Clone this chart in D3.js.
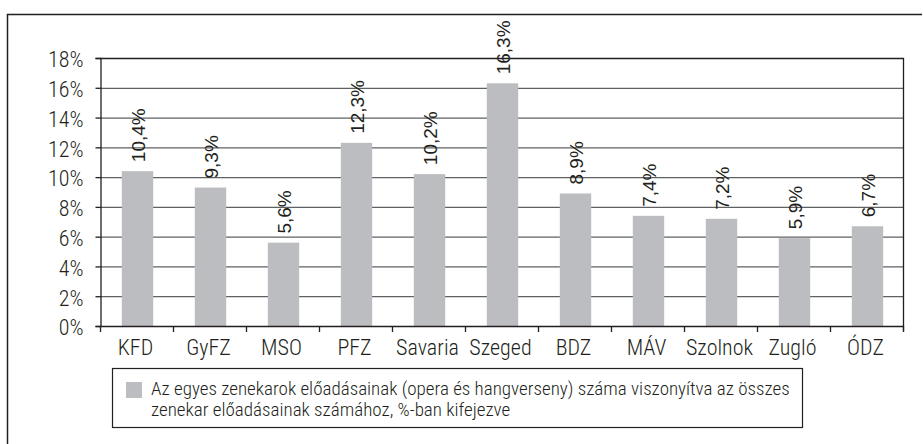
<!DOCTYPE html>
<html>
<head>
<meta charset="utf-8">
<script src="https://cdn.jsdelivr.net/npm/d3@7"></script>
<style>
  body { margin: 0; background: #fff; }
  text { font-family: "Roboto Condensed", "Liberation Sans", sans-serif; font-weight: 300; fill: #231f20; }
  text.val { font-family: "Liberation Sans", Arial, sans-serif; font-weight: 400; }
</style>
</head>
<body>
<div id="chart"></div>
<script>
// data
const categories = ["KFD", "GyFZ", "MSO", "PFZ", "Savaria", "Szeged", "BDZ", "MÁV", "Szolnok", "Zugló", "ÓDZ"];
const values = [10.4, 9.3, 5.6, 12.3, 10.2, 16.3, 8.9, 7.4, 7.2, 5.9, 6.7];
const yTicks = [0, 2, 4, 6, 8, 10, 12, 14, 16, 18];
const legendLines = [
  "Az egyes zenekarok előadásainak (opera és hangverseny) száma viszonyítva az összes",
  "zenekar előadásainak számához, %-ban kifejezve"
];

const width = 923, height = 444;
const plot = { left: 100, top: 58, right: 903, bottom: 326 };
const barColor = "#bcbdc0";

const svg = d3.select("#chart").append("svg")
  .attr("width", width)
  .attr("height", height);

// outer frame (only top + left visible)
svg.append("path")
  .attr("d", "M7.5,444 V14.5 H922")
  .attr("fill", "none")
  .attr("stroke", "#231f20")
  .attr("stroke-width", 1.5);

let x = d3.scaleBand()
  .domain(categories)
  .range([plot.left, plot.right])
  .paddingInner(0.57)
  .paddingOuter(0.285);

let y = d3.scaleLinear()
  .domain([0, 18])
  .range([plot.bottom, plot.top]);

// gridlines
svg.append("g")
  .selectAll("line")
  .data(yTicks.filter(d => d > 0 && d < 18))
  .join("line")
  .attr("x1", plot.left)
  .attr("x2", plot.right)
  .attr("y1", d => y(d) + 0.5)
  .attr("y2", d => y(d) + 0.5)
  .attr("stroke", "#5f6062")
  .attr("stroke-width", 1.3);

// bars
svg.append("g")
  .selectAll("rect")
  .data(values)
  .join("rect")
  .attr("x", (d, i) => x(categories[i]) + 1)
  .attr("y", d => y(d))
  .attr("width", x.bandwidth())
  .attr("height", d => y(0) - y(d))
  .attr("fill", barColor);

// plot border: top + right
svg.append("path")
  .attr("d", `M${plot.left},${plot.top + 0.5} H${plot.right + 0.5} V${plot.bottom + 5}`)
  .attr("fill", "none")
  .attr("stroke", "#231f20")
  .attr("stroke-width", 1.3);

// y axis
let yAxis = svg.append("g")
  .attr("transform", `translate(${plot.left + 0.5},0)`)
  .call(d3.axisLeft(y).tickValues(yTicks).tickSize(5).tickPadding(12).tickFormat(d => d + "%"));
yAxis.attr("font-family", null).attr("font-size", null);
yAxis.select(".domain").attr("stroke", "#231f20").attr("stroke-width", 1.3);
yAxis.selectAll(".tick line").attr("stroke", "#231f20").attr("stroke-width", 1.3);
yAxis.selectAll("text")
  .attr("font-size", 22)
  .attr("fill", "#231f20")
  .attr("dy", "0.4em");

// x axis line + ticks at category boundaries
let bounds = d3.range(categories.length + 1).map(i => plot.left + i * (plot.right - plot.left) / categories.length);
svg.append("line")
  .attr("x1", plot.left).attr("x2", plot.right + 1)
  .attr("y1", plot.bottom + 0.5).attr("y2", plot.bottom + 0.5)
  .attr("stroke", "#231f20").attr("stroke-width", 1.5);
svg.append("g")
  .selectAll("line")
  .data(bounds)
  .join("line")
  .attr("x1", d => d + 0.5).attr("x2", d => d + 0.5)
  .attr("y1", plot.bottom).attr("y2", plot.bottom + 6)
  .attr("stroke", "#231f20").attr("stroke-width", 1.3);

svg.append("g")
  .selectAll("text")
  .data(categories)
  .join("text")
  .attr("x", d => x(d) + x.bandwidth() / 2 - 1)
  .attr("y", plot.bottom + 29)
  .attr("text-anchor", "middle")
  .attr("font-size", 22)
  .text(d => d);

// value labels, rotated
svg.append("g")
  .selectAll("text")
  .data(values)
  .join("text")
  .attr("class", "val")
  .attr("transform", (d, i) => `translate(${x(categories[i]) + x.bandwidth() / 2 + 8},${y(d) - 9}) rotate(-90)`)
  .attr("font-size", 19)
  .text(d => d.toFixed(1).replace(".", ",") + "%");

// legend
let legend = svg.append("g");
legend.append("rect")
  .attr("x", 112.5).attr("y", 368.5)
  .attr("width", 690).attr("height", 59)
  .attr("fill", "none")
  .attr("stroke", "#231f20")
  .attr("stroke-width", 1.2);
legend.append("rect")
  .attr("x", 126).attr("y", 382)
  .attr("width", 16).attr("height", 16)
  .attr("fill", barColor);
legend.selectAll("text.leg")
  .data(legendLines)
  .join("text")
  .attr("class", "leg")
  .attr("x", 151)
  .attr("y", (d, i) => 395 + i * 21)
  .attr("font-size", 19)
  .text(d => d);
</script>
</body>
</html>
